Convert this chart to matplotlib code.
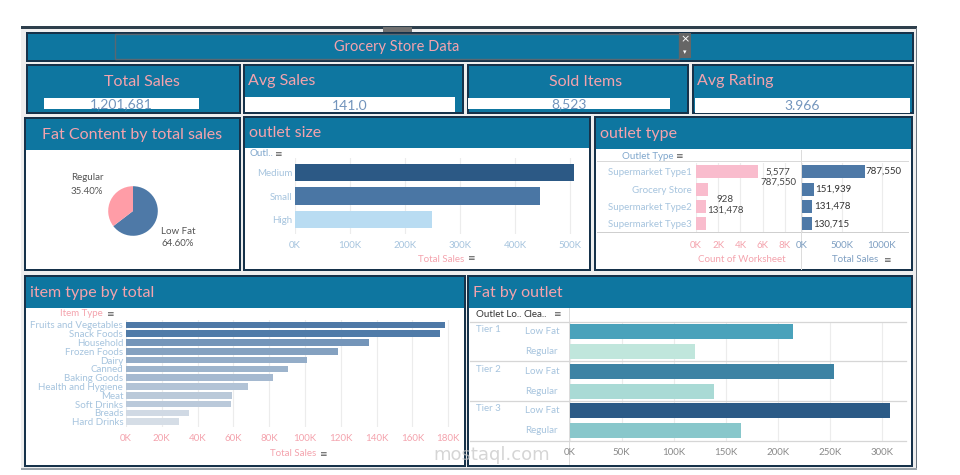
import matplotlib
matplotlib.use("Agg")
import matplotlib.pyplot as plt
import matplotlib.colors as mcolors
from matplotlib.patches import Rectangle
from matplotlib.ticker import FuncFormatter, MultipleLocator
from matplotlib.transforms import blended_transform_factory

plt.rcParams["font.family"] = ["Lato", "DejaVu Sans"]

# ---- data ----
kpi_titles = ["Total Sales", "Avg Sales", "Sold Items", "Avg Rating"]
kpi_values = ["1,201,681", "141.0", "8,523", "3.966"]

fat_labels = ["Low Fat", "Regular"]
fat_share = [64.60, 35.40]

size_labels = ["Medium", "Small", "High"]
size_sales = [507868, 444794, 248991]

otype_labels = ["Supermarket Type1", "Grocery Store", "Supermarket Type2", "Supermarket Type3"]
otype_count = [5577, 1083, 928, 935]
otype_sales = [787550, 151939, 131478, 130715]

item_types = ["Fruits and Vegetables", "Snack Foods", "Household", "Frozen Foods", "Dairy",
              "Canned", "Baking Goods", "Health and Hygiene", "Meat", "Soft Drinks",
              "Breads", "Hard Drinks"]
item_sales = [178124, 175433, 135976, 118558, 101276, 90706, 81894, 68025, 59449, 58514,
              35379, 29334]

tiers = ["Tier 1", "Tier 2", "Tier 3"]
fat_types = ["Low Fat", "Regular"]
tier_lowfat = [214500, 254200, 307200]
tier_regular = [120800, 138700, 165000]

# ---- colours ----
TEAL = "#0e76a0"
EDGE = "#16324a"
PINK = "#f4a3ad"
LBLUE = "#a6c4de"
KPI_TXT = "#7294bc"
GRID = "#ececec"
FS = 7  # small label size

W, H = 960, 475
fig = plt.figure(figsize=(W / 100, H / 100), dpi=100)
fig.patch.set_facecolor("white")


def rect(x0, y0, x1, y1):
    return [x0 / W, 1 - y1 / H, (x1 - x0) / W, (y1 - y0) / H]


def box(x0, y0, x1, y1, fc, ec="none", lw=0, z=-5):
    fig.add_artist(Rectangle((x0 / W, 1 - y1 / H), (x1 - x0) / W, (y1 - y0) / H,
                             transform=fig.transFigure, fc=fc, ec=ec, lw=lw, zorder=z))


def txt(x, y, s, **kw):
    kw.setdefault("va", "center")
    return fig.text(x / W, 1 - y / H, s, **kw)


def panel(x0, y0, x1, y1, hb, title, center=False):
    box(x0, y0, x1, y1, EDGE, z=-6)
    box(x0 + 2, y0 + 2, x1 - 2, y1 - 2, "white", z=-5)
    box(x0 + 2, y0 + 2, x1 - 2, hb, TEAL, z=-4)
    ty = (y0 + hb) / 2 + 1
    if center:
        txt((x0 + x1) / 2, ty, title, ha="center", color=PINK, fontsize=11.5)
    else:
        txt(x0 + 6, ty, title, ha="left", color=PINK, fontsize=11.5)


def sort_icon(x, y, color="#555555"):
    txt(x, y, "≡", ha="left", color=color, fontsize=6.5, family="DejaVu Sans")


kfmt = FuncFormatter(lambda v, p: f"{v / 1000:.0f}K")

# ---- frame & title ----
box(21, 28, 917, 469, "#eeeeee", z=-8)
box(21, 26, 917, 28.5, "#2e3f4c", z=-7)
box(915.5, 28, 917, 469, "#6a7580", z=-7)
box(21, 468, 917, 469.5, "#9aa3aa", z=-7)
box(383, 27, 412, 32, "#707070", z=-7)
box(26, 32, 914, 62, EDGE, z=-6)
box(28, 34, 912, 60, TEAL, z=-5)
box(115, 34, 679, 59, "none", ec="#5a6772", lw=1, z=-4)
txt(397, 47, "Grocery Store Data", ha="center", color=PINK, fontsize=10.5)
box(679, 33, 691, 58, "#666666", z=-3)
txt(685, 39, "×", ha="center", color="white", fontsize=8, family="DejaVu Sans")
txt(685, 52, "▾", ha="center", color="white", fontsize=5, family="DejaVu Sans")

# ---- KPI tiles ----
kpi_boxes = [(26, 64, 241, 114), (243, 64, 464, 114), (467, 64, 689, 114), (692, 64, 914, 114)]
kpi_white = [(44, 98, 199, 109), (245, 97, 455, 112), (468, 98, 670, 109), (695, 98, 910, 113)]
kpi_center = [True, False, True, False]
for (x0, y0, x1, y1), (wx0, wy0, wx1, wy1), t, v, c in zip(kpi_boxes, kpi_white, kpi_titles,
                                                              kpi_values, kpi_center):
    box(x0, y0, x1, y1, EDGE, z=-6)
    box(x0 + 2, y0 + 2, x1 - 2, y1 - 2, TEAL, z=-5)
    box(wx0, wy0, wx1, wy1, "white", z=-4)
    if c:
        txt((x0 + x1) / 2 + 8, 82, t, ha="center", color=PINK, fontsize=11.5)
    else:
        txt(x0 + 5, 81, t, ha="left", color=PINK, fontsize=11.5)
    txt((wx0 + wx1) / 2, (wy0 + wy1) / 2 + 1, v, ha="center", color=KPI_TXT, fontsize=10)

# ---- pie ----
panel(24, 117, 241, 271, 150, "Fat Content by total sales", center=True)
axp = fig.add_axes(rect(102, 180, 164, 242))
axp.pie(fat_share, colors=["#4e79a7", "#ff9da7"], startangle=90, counterclock=False,
        wedgeprops=dict(linewidth=0))
axp.set_aspect("equal")
txt(71, 178, fat_labels[1], ha="left", color="#555555", fontsize=FS)
txt(71, 191, f"{fat_share[1]:.2f}%", ha="left", color="#555555", fontsize=FS)
txt(161, 231, fat_labels[0], ha="left", color="#555555", fontsize=FS)
txt(161, 244, f"{fat_share[0]:.2f}%", ha="left", color="#555555", fontsize=FS)

# ---- outlet size ----
panel(243, 116, 591, 271, 148, "outlet size")
axs = fig.add_axes(rect(295, 158, 586, 234))
axs.barh(range(len(size_labels)), size_sales, height=0.72,
         color=["#2c5985", "#4a76a4", "#b9dcf2"])
axs.set_ylim(2.6, -0.6)
axs.set_xlim(0, 529000)
axs.set_yticks(range(len(size_labels)), size_labels)
axs.xaxis.set_major_locator(MultipleLocator(100000))
axs.xaxis.set_major_formatter(kfmt)
axs.tick_params(length=0, labelsize=FS, colors=LBLUE, pad=5)
axs.tick_params(axis="y", pad=2)
axs.grid(axis="x", color=GRID, lw=0.8)
axs.set_axisbelow(True)
for s in axs.spines.values():
    s.set_visible(False)
txt(249, 154, "Outl..", ha="left", color="#7fa6cc", fontsize=FS)
sort_icon(274, 154)
txt(441, 259, "Total Sales", ha="center", color=PINK, fontsize=FS)
sort_icon(467, 259)

# ---- outlet type ----
panel(594, 116, 913, 271, 149, "outlet type")
axc = fig.add_axes(rect(696, 163, 800, 232.4))
axc.barh(range(len(otype_labels)), otype_count, height=0.75, color="#f9bccd")
axc.set_ylim(3.5, -0.5)
axc.set_xlim(0, 9350)
axc.set_yticks(range(len(otype_labels)), otype_labels)
axc.xaxis.set_major_locator(MultipleLocator(2000))
axc.xaxis.set_major_formatter(kfmt)
axc.tick_params(axis="x", length=0, labelsize=FS, colors=PINK, pad=6)
axc.tick_params(axis="y", length=0, labelsize=FS, colors=LBLUE, pad=3)
axc.grid(axis="x", color=GRID, lw=0.8)
axc.set_axisbelow(True)
for s in axc.spines.values():
    s.set_visible(False)
axc.text(otype_count[0] + 1800, 0.33, f"{otype_count[0]:,}\n{otype_sales[0]:,}",
         ha="center", va="center", multialignment="center", fontsize=FS,
         color="#444444", linespacing=1.2)
axc.text(otype_count[2] + 1700, 1.93, f"{otype_count[2]:,}\n{otype_sales[2]:,}",
         ha="center", va="center", multialignment="center", fontsize=FS,
         color="#444444", linespacing=1.2)

axv = fig.add_axes(rect(802, 163, 908, 232.4))
axv.barh(range(len(otype_labels)), otype_sales, height=0.75, color="#4e79a7")
axv.set_ylim(3.5, -0.5)
axv.set_xlim(0, 1330000)
axv.set_yticks([])
axv.xaxis.set_major_locator(MultipleLocator(500000))
axv.xaxis.set_major_formatter(kfmt)
axv.tick_params(axis="x", length=0, labelsize=FS, colors="#7e9fc2", pad=6)
axv.grid(axis="x", color=GRID, lw=0.8)
axv.set_axisbelow(True)
for s in axv.spines.values():
    s.set_visible(False)
for i, v in enumerate(otype_sales):
    axv.text(v + 15000, i, f"{v:,}", ha="left", va="center", fontsize=FS, color="#333333")

box(597, 161.5, 909, 162.3, "#d9d9d9", z=-3)
box(597, 232, 909, 233, "#cfcfcf", z=-3)
box(695.5, 150, 696.3, 270, "#dcdcdc", z=-3)
box(801, 150, 801.8, 270, "#dcdcdc", z=-3)
txt(648, 156.5, "Outlet Type", ha="center", color="#7fa6cc", fontsize=FS)
sort_icon(675, 156.5)
txt(742, 260, "Count of Worksheet", ha="center", color=PINK, fontsize=FS)
txt(855, 260, "Total Sales", ha="center", color="#7e9fc2", fontsize=FS)
sort_icon(883, 260)

# ---- item type by total ----
panel(24, 275, 466, 467, 308, "item type by total")
axi = fig.add_axes(rect(126, 319.7, 455, 427))
icmap = mcolors.LinearSegmentedColormap.from_list("ib", ["#dde3ea", "#4e79a7"])
inorm = mcolors.Normalize(vmin=20000, vmax=max(item_sales))
axi.barh(range(len(item_types)), item_sales, height=0.76,
         color=[icmap(inorm(v)) for v in item_sales])
axi.set_ylim(len(item_types) - 0.4, -0.6)
axi.set_xlim(0, 183800)
axi.set_yticks(range(len(item_types)), item_types)
axi.xaxis.set_major_locator(MultipleLocator(20000))
axi.xaxis.set_major_formatter(kfmt)
axi.tick_params(axis="x", length=0, labelsize=FS, colors=PINK, pad=5)
axi.tick_params(axis="y", length=0, labelsize=FS, colors=LBLUE, pad=2)
axi.grid(axis="x", color=GRID, lw=0.8)
axi.set_axisbelow(True)
for s in axi.spines.values():
    s.set_visible(False)
txt(103, 314, "Item Type", ha="right", color=PINK, fontsize=FS)
sort_icon(106, 314)
txt(293, 454, "Total Sales", ha="center", color=PINK, fontsize=FS)
sort_icon(319, 454)

# ---- fat by outlet ----
panel(467, 275, 913, 467, 308, "Fat by outlet")
axf = fig.add_axes(rect(569.5, 321.7, 906, 440.7))
fcmap = mcolors.LinearSegmentedColormap.from_list(
    "ft", [(0, "#c0e6dc"), (0.25, "#84c5ca"), (0.5, "#4aa2bb"), (1, "#2b5a86")])
fnorm = mcolors.Normalize(vmin=min(tier_regular), vmax=max(tier_lowfat))
vals, rows = [], []
for t, lf, rg in zip(tiers, tier_lowfat, tier_regular):
    vals += [lf, rg]
    rows += [(t, fat_types[0]), (t, fat_types[1])]
axf.barh(range(len(vals)), vals, height=0.76, color=[fcmap(fnorm(v)) for v in vals])
axf.set_ylim(len(vals) - 0.5, -0.5)
axf.set_xlim(0, 323000)
axf.set_yticks([])
axf.xaxis.set_major_locator(MultipleLocator(50000))
axf.xaxis.set_major_formatter(kfmt)
axf.tick_params(axis="x", length=0, labelsize=FS, colors="#8a8a8a", pad=5)
axf.grid(axis="x", color=GRID, lw=0.8)
axf.set_axisbelow(True)
for s in axf.spines.values():
    s.set_visible(False)
blend = blended_transform_factory(fig.transFigure, axf.transData)
for i, (t, f) in enumerate(rows):
    if f == fat_types[0]:
        axf.text(476 / W, i - 0.1, t, transform=blend, ha="left", va="center",
                 fontsize=FS, color=LBLUE, clip_on=False)
    axf.text(525 / W, i, f, transform=blend, ha="left", va="center",
             fontsize=FS, color=LBLUE, clip_on=False)
for yb in [-0.5, 1.5, 3.5, 5.5]:
    axf.plot([470 / W, 906 / W], [yb, yb], transform=blend, color="#d6d6d6", lw=0.9,
             clip_on=False)
box(569, 308, 569.8, 465, "#dcdcdc", z=-3)
txt(476, 314.5, "Outlet Lo..", ha="left", color="#333333", fontsize=FS)
txt(524, 314.5, "Clea..", ha="left", color="#333333", fontsize=FS)
sort_icon(553, 314.5)

# watermark
txt(492, 455, "mostaql.com", ha="center", color="#c4c4c4", fontsize=13, alpha=0.7,
    family="DejaVu Sans")

fig.savefig("out.png", dpi=100)
